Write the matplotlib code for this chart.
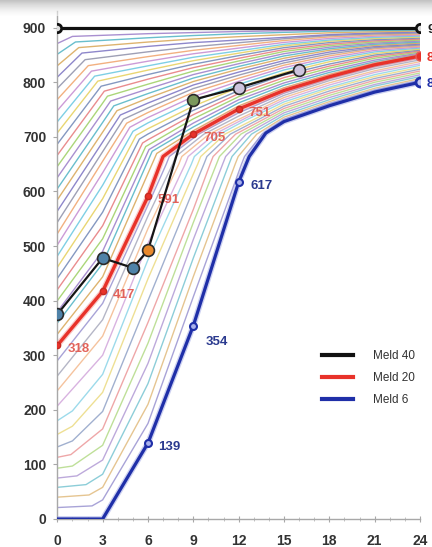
import matplotlib
matplotlib.use("Agg")
import matplotlib.pyplot as plt
import numpy as np

plt.rcParams['font.family'] = ['Liberation Sans', 'DejaVu Sans']

# ---------------- data ----------------
X_TICKS = [0, 3, 6, 9, 12, 15, 18, 21, 24]
Y_TICKS = [0, 100, 200, 300, 400, 500, 600, 700, 800, 900]

MELD40_X = [0, 24]
MELD40_Y = [900, 900]

MELD20_X = [0, 3, 6, 7, 9, 12, 15, 18, 21, 24]
MELD20_Y = [318, 417, 591, 664, 705, 751, 785, 810, 832, 848]
MELD20_LABEL_X = [0, 3, 6, 9, 12]
MELD20_LABEL_Y = [318, 417, 591, 705, 751]

MELD6_X = [0, 3, 6, 9, 12, 12.7, 13.8, 15, 18, 21, 24]
MELD6_Y = [0, 0, 139, 354, 617, 664, 707, 728, 757, 782, 800]
MELD6_LABEL_X = [6, 9, 12]
MELD6_LABEL_Y = [139, 354, 617]

END_LABELS = [900, 848, 800]

# patient trajectory
PATIENT_X = [0, 3, 5, 6, 9, 12, 16]
PATIENT_Y = [375, 478, 460, 492, 768, 790, 823]
PATIENT_COLORS = ['#4f82a8', '#4f82a8', '#4f82a8', '#e8892c', '#7b985c', '#cdc4de', '#cdc4de']

# background family of curves (between Meld 6 and Meld 20)
FAMILY_LOW = [
    [(0, 21), (2.3, 24), (3, 35), (6, 175), (9, 407), (12.19, 650), (12.39, 664), (13.55, 705), (15, 732), (18, 761), (21, 785.5), (24, 803.4)],
    [(0, 40), (2.1, 44), (3, 58), (6, 210), (9, 444), (11.77, 650), (11.97, 664), (13.2, 705), (15, 736), (18, 764.5), (21, 789), (24, 806.9)],
    [(0, 58), (1.9, 63), (3, 82), (6, 248), (9, 478), (11.36, 650), (11.56, 664), (12.85, 705), (15, 740), (18, 768), (21, 793), (24, 810.3)],
    [(0, 75), (1.3, 79), (3, 108), (6, 285), (9, 512), (10.94, 650), (11.14, 664), (12.5, 705), (15, 744), (18, 772), (21, 796), (24, 813.7)],
    [(0, 93), (1.0, 97), (3, 135), (6, 322), (9, 543), (10.53, 650), (10.73, 664), (12.15, 705), (15, 748), (18, 776), (21, 800), (24, 817)],
    [(0, 113), (0.9, 118), (3, 165), (6, 360), (9, 567), (10.11, 650), (10.31, 664), (11.8, 705), (15, 752), (18, 780), (21, 803.5), (24, 820.6)],
    [(0, 132), (1, 143), (3, 197), (6, 400), (9, 603), (9.7, 650), (9.9, 664), (11.45, 705), (15, 756), (18, 784), (21, 807), (24, 824)],
    [(0, 155), (1, 170), (3, 232), (6, 440), (9, 632), (9.29, 650), (9.49, 664), (11.1, 705), (15, 760), (18, 788), (21, 810.5), (24, 827.4)],
    [(0, 180), (1, 198), (3, 265), (6, 475), (8.87, 650), (9.07, 664), (10.75, 705), (12.5, 731), (15, 764), (18, 791), (21, 814), (24, 831)],
    [(0, 207), (3, 300), (6, 505), (8.46, 650), (8.66, 664), (10.4, 705), (12.5, 735), (15, 768), (18, 795), (21, 818), (24, 834)],
    [(0, 235), (3, 335), (6, 532), (8.04, 650), (8.24, 664), (10.05, 705), (12, 732), (15, 772), (18, 799), (21, 821), (24, 837.7)],
    [(0, 262), (3, 365), (6, 555), (7.63, 650), (7.83, 664), (9.7, 705), (12, 738), (15, 776), (18, 803), (21, 825), (24, 841)],
    [(0, 290), (3, 395), (6, 575), (7.21, 650), (7.41, 664), (9.35, 705), (12, 744), (15, 780), (18, 806.5), (21, 828.5), (24, 844.6)],
]

# background family of curves (between Meld 20 and Meld 40)
FAMILY_HIGH = [
    [(0, 338.5), (3, 443.6), (6.58, 669.6), (9, 711.3), (12, 756.6), (15, 789.9), (18, 814.2), (21, 834.8), (24, 849.8)],
    [(0, 358.9), (3, 468), (6.28, 673.6), (9, 718.1), (12, 762.3), (15, 794.5), (18, 818), (21, 837.6), (24, 851.7)],
    [(0, 379.5), (3, 490.5), (6.07, 676.8), (9, 725.2), (12, 767.9), (15, 798.8), (18, 821.7), (21, 840.6), (24, 853.5)],
    [(0, 399.8), (3, 513.2), (5.85, 682.2), (9, 733), (12, 773.6), (15, 803.7), (18, 825.9), (21, 844.1), (24, 855.3)],
    [(0, 420.1), (3, 537.2), (5.64, 688.7), (6, 694.8), (9, 740.7), (12, 779.2), (15, 808.6), (18, 829.6), (21, 847.1), (24, 857.2)],
    [(0, 440.7), (3, 562), (5.43, 695.8), (6, 705.2), (9, 748.5), (12, 784.8), (15, 813.4), (18, 833.4), (21, 849.9), (24, 859)],
    [(0, 461), (3, 586.6), (5.22, 702.8), (6, 715), (9, 756.2), (12, 790.4), (15, 817.6), (18, 837.6), (21, 852.7), (24, 860.8)],
    [(0, 481.6), (3, 611.4), (5.01, 710.2), (6, 725.6), (9, 765.3), (12, 796.1), (15, 822.5), (18, 841.2), (21, 855.6), (24, 862.7)],
    [(0, 501.9), (3, 634.2), (4.8, 717.6), (6, 735.4), (9, 773.7), (12, 801.7), (15, 827), (18, 844.7), (21, 858.4), (24, 864.5)],
    [(0, 522.5), (3, 655.3), (4.59, 725), (6, 744.6), (9, 781.5), (12, 807.4), (15, 831.3), (18, 848.3), (21, 861.2), (24, 866.3)],
    [(0, 543.5), (3, 672.8), (4.38, 732.4), (6, 753), (9, 788.5), (12, 813), (15, 835.5), (18, 851.8), (21, 863.3), (24, 868.2)],
    [(0, 564), (3, 690.5), (4.17, 740), (6, 761.9), (9, 795), (12, 818.6), (15, 839.7), (18, 855.3), (21, 865.4), (24, 870)],
    [(0, 584.6), (3, 708.6), (3.95, 748), (6, 770.9), (9, 801.4), (12, 824.1), (15, 844), (18, 858.6), (21, 867.5), (24, 871.8)],
    [(0, 604.9), (3, 726.4), (3.74, 756.8), (6, 779.3), (9, 807.7), (12, 829), (15, 848.2), (18, 861.4), (21, 869.6), (24, 873.6)],
    [(0, 625.5), (3, 744.3), (3.53, 765.6), (6, 787.8), (9, 814.1), (12, 834), (15, 852.4), (18, 864.3), (21, 871.7), (24, 875.5)],
    [(0, 645.8), (3, 761.8), (3.32, 774.5), (6, 796.5), (9, 820.4), (12, 838.9), (15, 856.4), (18, 867.1), (21, 873.8), (24, 877.3)],
    [(0, 666.4), (3, 779.5), (3.11, 783.7), (6, 805.7), (9, 826.8), (12, 843.9), (15, 859.9), (18, 869.8), (21, 875.9), (24, 879.1)],
    [(0, 686.7), (2.9, 792.8), (6, 814.2), (9, 833.1), (12, 848.8), (15, 863.4), (18, 872.7), (21, 878), (24, 881)],
    [(0, 707.3), (2.68, 802.1), (6, 822.3), (9, 839.5), (12, 853.3), (15, 866.6), (18, 875.2), (21, 880.2), (24, 882.8)],
    [(0, 727.6), (2.47, 811.2), (6, 830.1), (9, 845.8), (12, 857.6), (15, 869.5), (18, 877.4), (21, 882.3), (24, 884.6)],
    [(0, 748.2), (2.26, 820.4), (6, 838.6), (9, 852.2), (12, 862.6), (15, 873), (18, 880.2), (21, 884.4), (24, 886.5)],
    [(0, 768.5), (2.05, 830.5), (6, 847), (9, 858.5), (12, 867.5), (15, 876.5), (18, 883), (21, 886.5), (24, 888.3)],
    [(0, 788.8), (1.84, 841.4), (6, 855.8), (9, 865.1), (12, 872.4), (15, 879.7), (18, 885.5), (21, 888.5), (24, 890.1)],
    [(0, 809.4), (1.63, 853.5), (6, 865.7), (9, 872.6), (12, 877.4), (15, 882.2), (18, 887.3), (21, 890.3), (24, 892)],
    [(0, 830.3), (1.42, 863.5), (6, 873.7), (9, 879.3), (12, 883.5), (15, 887.1), (18, 890.6), (21, 892.6), (24, 893.8)],
    [(0, 851.3), (1.2, 873.8), (6, 881.5), (9, 885.6), (12, 888.9), (15, 891.4), (18, 893.6), (21, 895), (24, 895.6)],
    [(0, 871), (1.0, 884), (6, 889), (9, 891), (12, 893), (15, 894.5), (18, 896), (21, 897), (24, 897.4)],
]

PALETTE = ['#7a72c2', '#d8a656', '#4fb3c4', '#9a7cc8', '#9ccf62', '#e6787a',
           '#6f86b6', '#e5cf5a', '#68c7e0', '#c48ad0', '#f0a36a', '#8d8fa8']

LEGEND_LABELS = ['Meld 40', 'Meld 20', 'Meld 6']

# ---------------- figure ----------------
W, H = 432, 547
fig = plt.figure(figsize=(W / 100, H / 100), dpi=100)
x0_px, x1_px = 57.3, 420.0
y0_px, ytop_px = 519.0, 11.3
ax = fig.add_axes([x0_px / W, (H - y0_px) / H, (x1_px - x0_px) / W, (y0_px - ytop_px) / H])
ax.set_xlim(0, 24)
ax.set_ylim(0, 930)

# family curves
k = 0
for curve in FAMILY_LOW:
    xs, ys = zip(*curve)
    ax.plot(xs, ys, color=PALETTE[k % len(PALETTE)], lw=1.0, alpha=0.65, zorder=2,
            solid_joinstyle='round')
    k += 1
for curve in FAMILY_HIGH:
    xs, ys = zip(*curve)
    ax.plot(xs, ys, color=PALETTE[k % len(PALETTE)], lw=1.0, alpha=0.85, zorder=2,
            solid_joinstyle='round')
    k += 1

BLACK = '#111111'
RED = '#e8322a'
BLUE = '#1f2fa8'

# highlighted curves with halo
ax.plot(MELD20_X, MELD20_Y, color='#f28a85', lw=4.2, alpha=0.45, zorder=4)
ax.plot(MELD20_X, MELD20_Y, color=RED, lw=2.4, zorder=5, label=LEGEND_LABELS[1])
ax.plot(MELD6_X, MELD6_Y, color='#8e98e0', lw=4.2, alpha=0.45, zorder=4)
ax.plot(MELD6_X, MELD6_Y, color=BLUE, lw=2.3, zorder=5, label=LEGEND_LABELS[2])
ax.plot(MELD40_X, MELD40_Y, color=BLACK, lw=2.3, zorder=5, label=LEGEND_LABELS[0])

# markers
ax.plot(MELD20_LABEL_X, MELD20_LABEL_Y, 'o', ms=4.5, mfc=RED, mec='#c42a22', mew=1, zorder=6)
ax.plot(MELD20_X[-1:], MELD20_Y[-1:], 'o', ms=6.5, mfc=RED, mec='#e85a55', mew=1, zorder=6)
ax.plot(MELD6_LABEL_X, MELD6_LABEL_Y, 'o', ms=5, mfc='#aab2ec', mec=BLUE, mew=1.5, zorder=6)
ax.plot(MELD6_X[-1:], MELD6_Y[-1:], 'o', ms=6.5, mfc='#c8ccf2', mec=BLUE, mew=2, zorder=6)
ax.plot(MELD40_X, MELD40_Y, 'o', ms=6, mfc='#dddddd', mec=BLACK, mew=2, zorder=6)

# value labels
for xv, yv in zip(MELD20_LABEL_X, MELD20_LABEL_Y):
    ax.annotate(str(yv), (xv, yv), xytext=(10, -4), textcoords='offset pixels',
                color='#e2625a', fontsize=9.5, fontweight='bold', va='center', ha='left', zorder=7)
offsets6 = [(10, -4), (12, -16), (12, -4)]
for (xv, yv), off in zip(zip(MELD6_LABEL_X, MELD6_LABEL_Y), offsets6):
    ax.annotate(str(yv), (xv, yv), xytext=off, textcoords='offset pixels',
                color='#2b3a8f', fontsize=9.5, fontweight='bold', va='center', ha='left', zorder=7)
end_colors = ['#222222', RED, BLUE]
for yv, c in zip(END_LABELS, end_colors):
    ax.annotate(str(yv), (24, yv), xytext=(7, -2), textcoords='offset pixels',
                color=c, fontsize=9.5, fontweight='bold', va='center', ha='left',
                annotation_clip=False, zorder=7)

# patient trajectory
ax.plot(PATIENT_X, PATIENT_Y, color='#151515', lw=1.6, zorder=8)
for xv, yv, c in zip(PATIENT_X, PATIENT_Y, PATIENT_COLORS):
    ax.plot([xv], [yv], 'o', ms=8.5, mfc=c, mec='#2a2a2a', mew=1.2, zorder=9)

# axes styling
for side in ['top', 'right']:
    ax.spines[side].set_visible(False)
ax.spines['left'].set_color('#a8a8a8')
ax.spines['bottom'].set_color('#a8a8a8')
ax.spines['left'].set_linewidth(1.0)
ax.spines['bottom'].set_linewidth(1.0)
ax.set_xticks(X_TICKS)
ax.set_xticks(range(0, 25), minor=True)
ax.set_yticks(Y_TICKS)
ax.tick_params(axis='x', which='major', direction='inout', length=4, color='#a8a8a8',
               pad=9, labelsize=10, labelcolor='#333333')
ax.tick_params(axis='x', which='minor', direction='inout', length=3, color='#b8b8b8')
ax.tick_params(axis='y', which='major', direction='out', length=3, color='#a8a8a8',
               pad=5, labelsize=10, labelcolor='#333333')
for lab in ax.get_xticklabels() + ax.get_yticklabels():
    lab.set_fontweight('bold')

# legend
handles, labels = ax.get_legend_handles_labels()
order = [labels.index(l) for l in LEGEND_LABELS]
leg = ax.legend([handles[i] for i in order], [labels[i] for i in order],
                loc='center left', bbox_to_anchor=(0.70, 0.2776), bbox_transform=ax.transAxes,
                frameon=False, fontsize=8.5, handlelength=2.6, handletextpad=1.7,
                labelspacing=0.85, labelcolor='#333333')
for line in leg.get_lines():
    line.set_linewidth(3.0)

# gray band at the top (screenshot shading)
band = fig.add_axes([0, 1 - 16 / H, 1, 16 / H])
grad = np.linspace(0, 1, 64).reshape(-1, 1)
band.imshow(grad, aspect='auto', cmap='Greys_r', vmin=-0.9, vmax=1.0, alpha=0.55,
            extent=[0, 1, 0, 1])
band.axis('off')

fig.savefig('out.png', dpi=100)
